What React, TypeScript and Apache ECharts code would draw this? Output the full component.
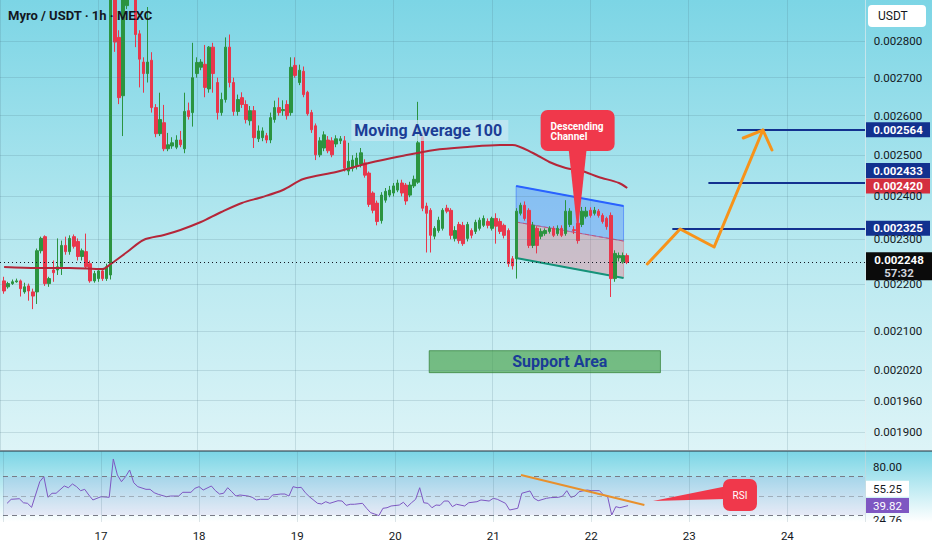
import React, { useEffect, useRef } from 'react';
import * as echarts from 'echarts';

// prices are stored in units of 1e-6 USDT
const SCALE = 1e-6;
const FIRST_HOUR = -23; // hour offset (0 = day 17, 00:00)
const X_MIN = -24;
const X_MAX = 187;

const dayLabels = ['17', '18', '19', '20', '21', '22', '23', '24'];
const priceTicks = [2800, 2700, 2600, 2500, 2400, 2300, 2200, 2100, 2020, 1960, 1900];

const candleOpen = [2207,2194,2201,2205,2207,2183,2196,2183,2183,2274,2306,2201,2231,2231,2238,2286,2272,2306,2295,2261,2272,2245,2207,2212,2229,2212,2220,2960,2810,2652,2900,3050,2980,2820,2742,2711,2747,2621,2554,2582,2516,2523,2520,2538,2516,2613,2608,2711,2728,2736,2670,2783,2687,2608,2642,2783,2687,2611,2647,2629,2587,2613,2541,2544,2549,2538,2590,2621,2613,2629,2608,2733,2687,2717,2661,2608,2574,2501,2518,2538,2536,2528,2536,2536,2461,2468,2473,2478,2481,2456,2408,2384,2343,2391,2403,2408,2415,2432,2427,2403,2425,2434,2546,2377,2367,2307,2320,2325,2372,2367,2302,2334,2332,2302,2320,2318,2325,2332,2341,2325,2348,2341,2332,2320,2256,2256,2360,2379,2367,2286,2325,2307,2313,2318,2325,2313,2325,2313,2334,2322,2337,2334,2353,2367,2360,2365,2355,2348,2355,2212,2258,2249,2263];
const candleClose = [2185,2201,2205,2207,2190,2194,2185,2174,2274,2302,2201,2212,2225,2238,2286,2272,2302,2284,2261,2274,2238,2207,2223,2229,2212,2238,2990,2797,2647,2930,3020,2980,2818,2750,2711,2742,2621,2554,2590,2516,2526,2531,2538,2526,2611,2598,2700,2741,2742,2674,2783,2711,2608,2642,2783,2687,2611,2642,2629,2590,2613,2544,2561,2561,2538,2595,2621,2608,2616,2600,2728,2706,2720,2655,2605,2564,2501,2536,2551,2511,2501,2541,2541,2468,2485,2488,2493,2506,2451,2381,2367,2341,2403,2412,2415,2425,2432,2408,2389,2427,2441,2531,2372,2360,2309,2325,2344,2367,2365,2309,2320,2297,2290,2334,2309,2339,2344,2348,2332,2348,2330,2318,2309,2245,2240,2365,2379,2348,2286,2332,2286,2318,2320,2325,2309,2325,2309,2365,2365,2320,2297,2365,2365,2355,2367,2355,2341,2329,2212,2268,2263,2263,2248];
const candleLow = [2179,2190,2198,2203,2173,2179,2164,2146,2157,2268,2196,2194,2205,2220,2220,2265,2265,2279,2252,2252,2234,2203,2203,2205,2207,2207,2210,2770,2630,2548,2890,2960,2783,2674,2660,2687,2608,2545,2548,2510,2510,2516,2515,2520,2505,2590,2572,2700,2720,2648,2660,2660,2590,2600,2634,2674,2600,2600,2620,2580,2575,2518,2533,2535,2530,2530,2582,2600,2600,2590,2600,2700,2680,2648,2600,2556,2488,2495,2510,2505,2495,2520,2528,2460,2451,2460,2465,2470,2445,2375,2360,2332,2336,2385,2398,2400,2410,2400,2380,2398,2420,2430,2365,2270,2270,2300,2315,2320,2360,2300,2295,2290,2285,2295,2302,2312,2320,2328,2325,2320,2290,2312,2302,2238,2232,2212,2355,2343,2280,2280,2268,2300,2308,2313,2305,2308,2305,2308,2328,2312,2290,2328,2348,2350,2355,2350,2336,2322,2172,2205,2250,2245,2244];
const candleHigh = [2216,2205,2210,2212,2210,2203,2201,2190,2279,2306,2309,2216,2252,2302,2297,2306,2309,2311,2302,2279,2313,2252,2229,2234,2234,2245,3020,3000,2830,2960,3080,3120,3000,2830,2755,2896,2769,2630,2660,2628,2556,2545,2550,2561,2660,2634,2795,2755,2750,2789,2786,2795,2700,2660,2810,2818,2700,2655,2661,2640,2625,2625,2575,2570,2556,2608,2639,2647,2640,2640,2755,2755,2735,2730,2665,2615,2580,2545,2560,2548,2545,2550,2548,2548,2531,2500,2506,2518,2490,2460,2412,2390,2410,2420,2425,2432,2440,2440,2432,2435,2450,2636,2556,2385,2372,2330,2352,2372,2380,2372,2330,2340,2340,2340,2325,2345,2350,2355,2348,2352,2360,2348,2336,2325,2262,2372,2385,2388,2372,2340,2330,2325,2325,2330,2330,2332,2332,2391,2372,2330,2341,2375,2375,2374,2375,2370,2360,2352,2362,2275,2270,2270,2268];

// Moving average 100: [hour, price]
const maPoints = [[-23,2237.6],[-15,2235.4],[-7,2235.4],[1,2233.1],[3,2244.2],[7,2271.1],[11,2298.4],[16,2309.8],[20,2321.3],[25,2339.7],[30,2363.1],[35,2384.3],[40,2398.5],[45,2415.2],[50,2441.7],[58,2458.8],[66,2480.8],[74,2498.1],[82,2513],[90,2520.5],[98,2525.5],[101,2525.5],[106,2505.5],[110,2483.3],[114,2468.5],[118,2461.2],[122,2446.6],[127,2432.1],[129,2420]];

// RSI: [hour, value]
const rsiPoints = [[-23,42.2],[-22,46.4],[-20,47],[-19,42.8],[-18,42.2],[-17,38],[-15,64.8],[-14,70],[-13,48.5],[-12,52.7],[-11,52.7],[-9,60.3],[-8,58.5],[-7,62.4],[-6,59.6],[-5,55.4],[-4,56.8],[-3,50.9],[-2,45.7],[-1,47.4],[0,49.1],[2,48.5],[3,88.5],[4,71.8],[5,64.8],[6,70],[7,77],[8,63.7],[9,59.6],[11,56.8],[12,56.8],[13,53.3],[14,51.6],[16,49.1],[17,49.8],[19,49.8],[20,53.7],[22,53.7],[23,57.9],[24,59.6],[25,56.1],[27,60.3],[28,55.4],[29,51.9],[30,52.7],[31,58.5],[32,54.3],[33,49.8],[34,50.9],[36,49.8],[37,48.5],[38,45.7],[39,46.4],[41,46.4],[42,50.9],[44,51.9],[45,51.9],[46,49.8],[47,59.6],[48,58.5],[49,58.9],[50,53.3],[51,49.1],[53,42.2],[54,41.5],[55,43.9],[56,42.2],[58,44.9],[59,44.6],[60,40.1],[61,41.2],[62,41.2],[64,42.2],[65,37],[66,32.4],[67,31],[68,29.3],[69,37],[70,37.6],[71,39.4],[73,40.4],[74,43.3],[75,38.7],[76,42.8],[77,46.4],[78,58.5],[79,42.8],[80,42.2],[81,37.6],[82,40.4],[83,40.1],[84,44.6],[85,44.6],[86,38.7],[87,41.2],[89,39.4],[90,42.8],[92,43.9],[93,45.7],[95,44.6],[96,47.4],[97,46.4],[99,42.2],[100,35.2],[102,37],[103,52.7],[105,55.1],[106,47.4],[107,44.9],[109,47.4],[110,48.1],[112,48.5],[113,49.8],[114,55.4],[115,48.5],[116,49.8],[117,54.3],[119,56.1],[120,55.4],[122,55.4],[123,50.9],[124,49.1],[125,30],[126,38.7],[127,37.6],[129,39.82]];

const rsiBands = [70, 50, 30];
const rsiTicks = [80, 24.76];
const rsiLast = 39.82;
const rsiMaLast = 55.25;

const lastPrice = 2248;
const countdown = '57:32';
const maLast = 2420;
const levelPrices = [2564, 2433, 2325];
const levelStartHours = [155.8, 148.8, 140];

const channelHours = [101.9, 128.1];
const channelTop = [2424.8, 2377.2];
const channelMid = [2339.7, 2296.0];
const channelBottom = [2257.6, 2213.3];

const supportHours = [80.7, 137.1];
const supportPrices = [2059.3, 2014.9];

const arrowPath = [[133.9, 2244.2], [141.9, 2323.5], [150.2, 2282.4], [162.1, 2563.3]];
const arrowHead = [[157.3, 2543.1], [162.1, 2563.3], [164.3, 2513.0]];
const rsiTrend = [[102.8, 71.8], [133, 40.4]];

const maLabelAnchor = [61.7, 2562.1];
const channelCalloutTip = [116.9, 2314.3];
const rsiCalloutTip = [135.1, 44.6];

const GREEN = '#2b9440';
const RED = '#e8374c';
const NAVY = '#12318f';
const GRID_LINE = 'rgba(70,110,125,0.18)';
const TEXT = '#131722';
const FONT = 'Roboto, "Noto Sans", sans-serif';

const px = (v: number) => v * SCALE;

export default function App() {
  const ref = useRef<HTMLDivElement>(null);

  useEffect(() => {
    document.body.style.margin = '0';
    const chart = echarts.init(ref.current as HTMLDivElement, null, { renderer: 'svg' });

    const candles = candleOpen.map((o, i) => [
      FIRST_HOUR + i, px(o), px(candleClose[i]), px(candleLow[i]), px(candleHigh[i]),
    ]);

    const badge = (value: number, text: string, bg: string, fg: string, offY: number, w = 64, h = 15, bold = true) => ({
      coord: [X_MAX, value],
      symbol: 'rect',
      symbolSize: [w, h],
      symbolOffset: [w / 2 + 1, offY],
      itemStyle: { color: bg },
      label: {
        show: true, position: 'inside', formatter: text, color: fg,
        fontSize: 11.5, fontWeight: bold ? 'bold' : 'normal', fontFamily: FONT,
      },
    });

    const hLine = (value: number, from: number, style: any) => [
      { coord: [from, value], lineStyle: style, label: { show: false } },
      { coord: [X_MAX, value] },
    ];

    const option: any = {
      animation: false,
      textStyle: { fontFamily: FONT },
      title: {
        text: 'Myro / USDT · 1h · MEXC', left: 8, top: 9, padding: 0,
        textStyle: { fontSize: 13, fontWeight: 'bold', color: TEXT, fontFamily: FONT },
      },
      graphic: [
        {
          type: 'rect', z: -100, silent: true, shape: { x: 0, y: 0, width: 932, height: 451 },
          style: { fill: new echarts.graphic.LinearGradient(0, 0, 0, 1, [
            { offset: 0, color: '#7cd5e5' }, { offset: 0.5, color: '#b3e7ef' }, { offset: 1, color: '#ddf4f7' },
          ]) },
        },
        {
          type: 'rect', z: -100, silent: true, shape: { x: 0, y: 451, width: 932, height: 71 },
          style: { fill: new echarts.graphic.LinearGradient(0, 0, 0, 1, [
            { offset: 0, color: '#7ad5e5' }, { offset: 1, color: '#ffffff' },
          ]) },
        },
        { type: 'rect', z: 50, silent: true, shape: { x: 0, y: 522, width: 932, height: 28 }, style: { fill: '#ffffff' } },
        { type: 'line', z: 51, silent: true, shape: { x1: 0, y1: 451, x2: 932, y2: 451 }, style: { stroke: '#2a2e39', lineWidth: 1.2 } },
        { type: 'line', z: 1, silent: true, shape: { x1: 865.5, y1: 0, x2: 865.5, y2: 522 }, style: { stroke: 'rgba(255,255,255,0.55)', lineWidth: 1 } },
        { type: 'rect', z: 60, silent: true, shape: { x: 868, y: 5, width: 58, height: 22, r: 4 }, style: { fill: '#ffffff' } },
        { type: 'text', z: 61, silent: true, x: 878, y: 16, style: { text: 'USDT', fill: TEXT, fontSize: 12, fontFamily: FONT, verticalAlign: 'middle' } },
      ],
      grid: [
        { left: -3, right: 67, top: 0, height: 450 },
        { left: -3, right: 67, top: 451, height: 71 },
      ],
      xAxis: [
        {
          type: 'value', gridIndex: 0, min: X_MIN, max: X_MAX, interval: 24,
          axisLabel: { show: false }, axisTick: { show: false }, axisLine: { show: false },
          splitLine: { show: true, lineStyle: { color: GRID_LINE, width: 1 } },
        },
        {
          type: 'value', gridIndex: 1, min: X_MIN, max: X_MAX, interval: 24, z: 60,
          axisLabel: {
            show: true, margin: 8, color: TEXT, fontSize: 11.5, fontFamily: FONT,
            formatter: (v: number) => (v >= 0 && v % 24 === 0 && v / 24 < dayLabels.length ? dayLabels[v / 24] : ''),
          },
          axisTick: { show: false }, axisLine: { show: false },
          splitLine: { show: true, lineStyle: { color: GRID_LINE, width: 1 } },
        },
      ],
      yAxis: [
        {
          type: 'log', gridIndex: 0, logBase: 10, min: 0.0018661, max: 0.0029162,
          axisLabel: { show: false }, axisTick: { show: false }, axisLine: { show: false }, splitLine: { show: false },
        },
        {
          type: 'value', gridIndex: 1, min: 22.69, max: 96.84,
          axisLabel: { show: false }, axisTick: { show: false }, axisLine: { show: false }, splitLine: { show: false },
        },
      ],
      series: [
        // descending channel
        {
          type: 'custom', xAxisIndex: 0, yAxisIndex: 0, z: 1, silent: true,
          data: [[channelHours[0], px(channelTop[0])]],
          renderItem: (_p: any, api: any) => {
            const c = (h: number, v: number) => api.coord([h, px(v)]);
            const tl = c(channelHours[0], channelTop[0]);
            const tr = c(channelHours[1], channelTop[1]);
            const ml = c(channelHours[0], channelMid[0]);
            const mr = c(channelHours[1], channelMid[1]);
            const bl = c(channelHours[0], channelBottom[0]);
            const br = c(channelHours[1], channelBottom[1]);
            return {
              type: 'group',
              children: [
                { type: 'polygon', shape: { points: [tl, tr, mr, ml] }, style: { fill: 'rgba(41,98,255,0.28)', stroke: 'rgba(41,98,255,0.5)', lineWidth: 1 } },
                { type: 'polygon', shape: { points: [ml, mr, br, bl] }, style: { fill: 'rgba(255,70,90,0.26)', stroke: 'rgba(242,54,69,0.3)', lineWidth: 1 } },
                { type: 'line', shape: { x1: tl[0], y1: tl[1], x2: tr[0], y2: tr[1] }, style: { stroke: '#2962ff', lineWidth: 2 } },
                { type: 'line', shape: { x1: ml[0], y1: ml[1], x2: mr[0], y2: mr[1] }, style: { stroke: 'rgba(220,60,80,0.55)', lineWidth: 1, lineDash: [4, 3] } },
                { type: 'line', shape: { x1: bl[0], y1: bl[1], x2: br[0], y2: br[1] }, style: { stroke: '#14937a', lineWidth: 2 } },
              ],
            };
          },
        },
        {
          type: 'candlestick', name: 'Myro', xAxisIndex: 0, yAxisIndex: 0, z: 3,
          data: candles, encode: { x: 0, y: [1, 2, 3, 4] }, barWidth: 3,
          itemStyle: { color: GREEN, color0: RED, borderColor: GREEN, borderColor0: RED, borderWidth: 1 },
          markArea: {
            silent: true,
            data: [[
              {
                coord: [supportHours[0], px(supportPrices[0])],
                itemStyle: { color: 'rgba(67,160,71,0.65)', borderColor: 'rgba(46,125,50,0.7)', borderWidth: 1 },
                label: { show: true, position: 'inside', offset: [15, 0], formatter: 'Support Area', color: '#1a3d96', fontSize: 16, fontWeight: 'bold', fontFamily: FONT },
              },
              { coord: [supportHours[1], px(supportPrices[1])] },
            ]],
          },
        },
        {
          type: 'line', name: 'MA 100', xAxisIndex: 0, yAxisIndex: 0, z: 4,
          data: maPoints.map(([h, v]) => [h, px(v)]), smooth: 0.3, showSymbol: false, silent: true,
          lineStyle: { color: '#b52639', width: 2 },
        },
        {
          type: 'line', xAxisIndex: 0, yAxisIndex: 0, z: 6, silent: true, showSymbol: false,
          data: arrowPath.map(([h, v]) => [h, px(v)]),
          lineStyle: { color: '#f7931a', width: 3, cap: 'round', join: 'round' },
        },
        {
          type: 'line', xAxisIndex: 0, yAxisIndex: 0, z: 6, silent: true, showSymbol: false,
          data: arrowHead.map(([h, v]) => [h, px(v)]),
          lineStyle: { color: '#f7931a', width: 3, cap: 'round', join: 'round' },
        },
        // price pane: gridlines, last price line, target levels
        {
          type: 'line', xAxisIndex: 0, yAxisIndex: 0, data: [], clip: false, z: 2, silent: true,
          markLine: {
            silent: true, symbol: ['none', 'none'], animation: false,
            data: [
              ...priceTicks.map((t) => hLine(px(t), X_MIN, { color: GRID_LINE, width: 1, type: 'solid' })),
              hLine(px(lastPrice), X_MIN, { color: TEXT, width: 1, type: [1, 3] }),
              ...levelPrices.map((p, i) => hLine(px(p), levelStartHours[i], { color: NAVY, width: 2, type: 'solid' })),
            ],
          },
        },
        // price scale labels
        {
          type: 'line', xAxisIndex: 0, yAxisIndex: 0, data: [], clip: false, z: 10, silent: true,
          markPoint: {
            silent: true, animation: false,
            data: priceTicks.map((t) => badge(px(t), (t * SCALE).toFixed(6), 'rgba(0,0,0,0)', TEXT, 0, 64, 14, false)),
          },
        },
        // price badges
        {
          type: 'line', xAxisIndex: 0, yAxisIndex: 0, data: [], clip: false, z: 20, silent: true,
          markPoint: {
            silent: true, animation: false,
            data: [
              badge(px(levelPrices[0]), (levelPrices[0] * SCALE).toFixed(6), NAVY, '#ffffff', 0),
              badge(px(levelPrices[1]), (levelPrices[1] * SCALE).toFixed(6), NAVY, '#ffffff', -12),
              badge(px(maLast), (maLast * SCALE).toFixed(6), '#d42f3f', '#ffffff', -2),
              badge(px(levelPrices[2]), (levelPrices[2] * SCALE).toFixed(6), NAVY, '#ffffff', 0),
              {
                coord: [X_MAX, px(lastPrice)], symbol: 'rect', symbolSize: [66, 28], symbolOffset: [34, 4],
                itemStyle: { color: '#0b0b0b' },
                label: {
                  show: true, position: 'inside',
                  formatter: '{a|' + (lastPrice * SCALE).toFixed(6) + '}\n{b|' + countdown + '}',
                  rich: {
                    a: { color: '#ffffff', fontSize: 11.5, fontWeight: 'bold', fontFamily: FONT, width: 54, lineHeight: 13 },
                    b: { color: '#d1d4dc', fontSize: 11.5, fontWeight: 'bold', fontFamily: FONT, width: 54, lineHeight: 13 },
                  },
                },
              },
            ],
          },
        },
        // annotations on price pane
        {
          type: 'custom', xAxisIndex: 0, yAxisIndex: 0, z: 8, silent: true,
          data: [[maLabelAnchor[0], px(maLabelAnchor[1])]],
          renderItem: (_p: any, api: any) => {
            const [ax, ay] = api.coord([maLabelAnchor[0], px(maLabelAnchor[1])]);
            const [tx, ty] = api.coord([channelCalloutTip[0], px(channelCalloutTip[1])]);
            return {
              type: 'group',
              children: [
                { type: 'rect', shape: { x: ax, y: ay - 10.5, width: 157, height: 21 }, style: { fill: 'rgba(200,232,243,0.75)' } },
                { type: 'text', x: ax + 3, y: ay, style: { text: 'Moving Average 100', fill: '#1b3d96', fontSize: 16, fontWeight: 'bold', fontFamily: FONT, verticalAlign: 'middle' } },
                { type: 'polygon', shape: { points: [[tx - 9, ty - 84], [tx + 9, ty - 84], [tx, ty]] }, style: { fill: '#f0384b' } },
                { type: 'rect', shape: { x: tx - 37, y: ty - 123, width: 74, height: 41, r: 7 }, style: { fill: '#f0384b' } },
                { type: 'text', x: tx - 27, y: ty - 107, style: { text: 'Descending', fill: '#ffffff', fontSize: 10, fontWeight: 'bold', fontFamily: FONT, verticalAlign: 'middle' } },
                { type: 'text', x: tx - 27, y: ty - 97, style: { text: 'Channel', fill: '#ffffff', fontSize: 10, fontWeight: 'bold', fontFamily: FONT, verticalAlign: 'middle' } },
              ],
            };
          },
        },
        // RSI pane
        {
          type: 'line', name: 'RSI', xAxisIndex: 1, yAxisIndex: 1, z: 4, silent: true, showSymbol: false,
          data: rsiPoints, lineStyle: { color: '#7e57c2', width: 1 },
        },
        {
          type: 'line', xAxisIndex: 1, yAxisIndex: 1, z: 6, silent: true, showSymbol: false,
          data: rsiTrend, lineStyle: { color: '#e8902c', width: 2 },
        },
        {
          type: 'line', xAxisIndex: 1, yAxisIndex: 1, data: [], clip: false, z: 3, silent: true,
          markArea: {
            silent: true,
            data: [[
              { coord: [X_MIN, rsiBands[0]], itemStyle: { color: 'rgba(126,87,194,0.1)' } },
              { coord: [X_MAX, rsiBands[2]] },
            ]],
          },
          markLine: {
            silent: true, symbol: ['none', 'none'], animation: false,
            data: rsiBands.map((b, i) => hLine(b, X_MIN, { color: '#787b86', width: 1, type: [5, 4], opacity: i === 1 ? 0.5 : 1 })),
          },
        },
        {
          type: 'line', xAxisIndex: 1, yAxisIndex: 1, data: [], clip: false, z: 20, silent: true,
          markPoint: {
            silent: true, animation: false,
            data: [
              ...rsiTicks.map((t) => badge(t, t.toFixed(2), 'rgba(0,0,0,0)', TEXT, 0, 43, 14, false)),
              badge(rsiMaLast, rsiMaLast.toFixed(2), '#ffffff', TEXT, -2, 43, 16, false),
              badge(rsiLast, rsiLast.toFixed(2), '#7e57c2', '#ffffff', 0, 43, 15, false),
            ],
          },
        },
        {
          type: 'custom', xAxisIndex: 1, yAxisIndex: 1, z: 8, silent: true,
          data: [rsiCalloutTip],
          renderItem: (_p: any, api: any) => {
            const [tx, ty] = api.coord(rsiCalloutTip);
            return {
              type: 'group',
              children: [
                { type: 'polygon', shape: { points: [[tx, ty], [tx + 72, ty - 14.5], [tx + 72, ty - 2]] }, style: { fill: '#f0384b' } },
                { type: 'rect', shape: { x: tx + 70, y: ty - 22, width: 34, height: 32, r: 7 }, style: { fill: '#f0384b' } },
                { type: 'text', x: tx + 87, y: ty - 6, style: { text: 'RSI', fill: '#ffffff', fontSize: 10, fontFamily: FONT, align: 'center', verticalAlign: 'middle' } },
              ],
            };
          },
        },
      ],
    };

    chart.setOption(option);
    return () => chart.dispose();
  }, []);

  return <div ref={ref} style={{ width: 932, height: 550 }} />;
}
